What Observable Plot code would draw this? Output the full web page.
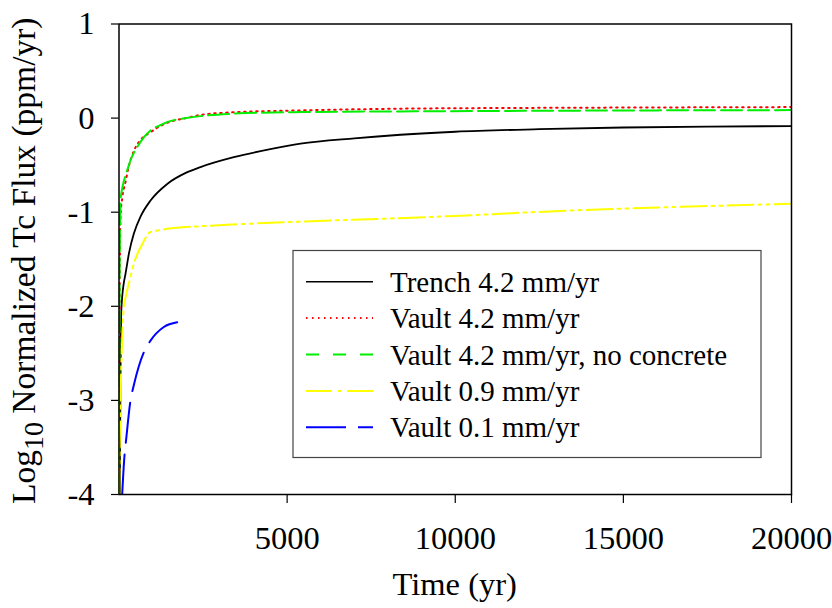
<!DOCTYPE html>
<html>
<head>
<meta charset="utf-8">
<script src="https://cdn.jsdelivr.net/npm/d3@7"></script>
<script src="https://cdn.jsdelivr.net/npm/@observablehq/plot@0.6"></script>
<style>
  html, body { margin: 0; padding: 0; background: #fff; }
  #chart svg { display: block; }
</style>
</head>
<body>
<div id="chart"></div>
<script>
// Log10 normalized Tc flux (ppm/yr) versus time (yr) for each disposal case.
const seriesNames = [
  "Trench 4.2 mm/yr",
  "Vault 4.2 mm/yr",
  "Vault 4.2 mm/yr, no concrete",
  "Vault 0.9 mm/yr",
  "Vault 0.1 mm/yr"
];
const seriesColors = ["#000000", "#ff0000", "#00ee00", "#ffff00", "#0000ff"];
const seriesDashes = [null, "1.5,4.5", "21,6", "26,5,3,5,3,5", "40,12"];
const legendDashes = [null, "1.5,4.5", "13,14", "26,6,3,6,26", "40,12"];

const trenchTime = [25, 35, 45, 55, 65, 100, 140, 193, 300, 440, 650, 937, 1433, 2000, 2424, 3414, 4500, 5398, 7000, 8372, 10000, 12500, 15000, 17500, 20000];
const trenchFlux = [-4, -3.3, -2.75, -2.35, -2.08, -1.88, -1.76, -1.655, -1.43, -1.23, -1.04, -0.876, -0.70, -0.58, -0.52, -0.415, -0.33, -0.272, -0.215, -0.177, -0.145, -0.118, -0.10, -0.09, -0.085];

const vault42Time = [5, 10, 18, 30, 50, 100, 193, 300, 440, 600, 937, 1433, 2000, 2424, 3414, 5398, 8372, 12000, 16000, 20000];
const vault42Flux = [-4, -3, -2, -1.4, -1.02, -0.84, -0.68, -0.5, -0.35, -0.25, -0.15, -0.05, 0.0, 0.034, 0.062, 0.082, 0.10, 0.108, 0.113, 0.117];

const noConcreteTime = [3, 8, 15, 25, 45, 100, 193, 243, 350, 541, 750, 937, 1200, 1433, 2000, 2424, 3414, 5398, 8372, 12000, 16000, 20000];
const noConcreteFlux = [-4, -3, -2, -1.35, -0.876, -0.74, -0.61, -0.556, -0.44, -0.31, -0.2, -0.131, -0.08, -0.043, 0.0, 0.021, 0.047, 0.064, 0.071, 0.077, 0.082, 0.085];

const vault09Time = [5, 20, 45, 80, 143, 200, 291, 440, 690, 937, 1234, 1433, 2400, 3414, 5398, 8274, 10000, 12000, 14440, 17000, 20000];
const vault09Flux = [-4, -3.5, -3.0, -2.5, -2.01, -1.9, -1.76, -1.55, -1.34, -1.21, -1.19, -1.177, -1.15, -1.13, -1.10, -1.064, -1.04, -1.005, -0.968, -0.94, -0.91];

const vault01Time = [95, 150, 223, 342, 440, 738, 937, 1333, 1730];
const vault01Flux = [-4, -3.65, -3.38, -3.0, -2.84, -2.49, -2.365, -2.22, -2.17];

const xTicks = [5000, 10000, 15000, 20000];
const yTicks = [-4, -3, -2, -1, 0, 1];

const xTitle = "Time (yr)";

const times = [trenchTime, vault42Time, noConcreteTime, vault09Time, vault01Time];
const fluxes = [trenchFlux, vault42Flux, noConcreteFlux, vault09Flux, vault01Flux];
const series = seriesNames.map((name, i) =>
  times[i].map((t, j) => ({name, t, v: fluxes[i][j]}))
);

const serif = "'Liberation Serif', 'Times New Roman', Times, serif";

const lineMarks = series.map((data, i) =>
  Plot.line(data, {
    x: "t", y: "v",
    stroke: seriesColors[i],
    strokeWidth: i === 0 ? 1.8 : 2,
    strokeDasharray: seriesDashes[i],
    curve: "monotone-x",
    clip: true
  })
);

const chart = Plot.plot({
  width: 832,
  height: 608,
  marginLeft: 118.5,
  marginRight: 41,
  marginTop: 23.5,
  marginBottom: 114,
  style: {fontFamily: serif, fontSize: "32.5px", background: "#fff", color: "#000", overflow: "hidden"},
  x: {domain: [0, 20000]},
  y: {domain: [-4, 1]},
  marks: [
    ...lineMarks,
    Plot.frame({stroke: "#000", strokeWidth: 1.5}),
    Plot.axisX({ticks: xTicks, tickFormat: d => String(d), tickSize: 9, tickPadding: 22, label: null, stroke: "#000", strokeWidth: 1.2}),
    Plot.axisY({ticks: yTicks, tickFormat: d => String(d), tickSize: 7.5, tickPadding: 17, label: null, stroke: "#000", strokeWidth: 1.2})
  ]
});

document.getElementById("chart").appendChild(chart);

const svg = d3.select(chart);
const x = chart.scale("x");
const y = chart.scale("y");
const cx = (x.range[0] + x.range[1]) / 2;
const cy = (y.range[0] + y.range[1]) / 2;

// Axis titles
svg.append("text")
  .attr("x", cx).attr("y", 595)
  .attr("text-anchor", "middle")
  .attr("font-family", serif).attr("font-size", 32.5)
  .attr("fill", "#000")
  .text(xTitle);

const yTitle = svg.append("text")
  .attr("transform", `translate(35,${cy + 2}) rotate(-90)`)
  .attr("text-anchor", "middle")
  .attr("font-family", serif).attr("font-size", 33.5)
  .attr("fill", "#000");
yTitle.append("tspan").text("Log");
yTitle.append("tspan").attr("font-size", 28).attr("dy", 8).text("10");
yTitle.append("tspan").attr("dy", -8).text(" Normalized Tc Flux (ppm/yr)");

// Legend
const legend = svg.append("g");
legend.append("rect")
  .attr("x", 293).attr("y", 250.5)
  .attr("width", 468).attr("height", 207)
  .attr("fill", "#fff").attr("stroke", "#444").attr("stroke-width", 1.2);
seriesNames.forEach((name, i) => {
  const ry = 281.7 + i * 36.4;
  legend.append("line")
    .attr("x1", 306).attr("x2", 373)
    .attr("y1", ry).attr("y2", ry)
    .attr("stroke", seriesColors[i])
    .attr("stroke-width", i === 0 ? 1.5 : 2)
    .attr("stroke-dasharray", legendDashes[i]);
  legend.append("text")
    .attr("x", 390).attr("y", ry + 10)
    .attr("text-anchor", "start")
    .attr("font-family", serif).attr("font-size", 29)
    .attr("fill", "#000")
    .text(name);
});
</script>
</body>
</html>
